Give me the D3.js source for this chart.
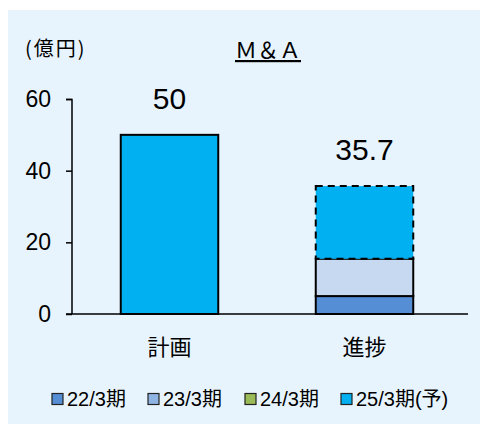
<!DOCTYPE html>
<html>
<head>
<meta charset="utf-8">
<script src="https://cdn.jsdelivr.net/npm/d3@7"></script>
<style>
  body { margin: 0; background: #fff; }
  text { font-family: "Liberation Sans", Arial, "Noto Sans CJK JP", sans-serif; fill: #000; }
</style>
</head>
<body>
<svg id="chart" width="487" height="425"></svg>
<script>
// data
var categories = ["計画", "進捗"];
var planValue = 50;
var seriesNames = ["22/3期", "23/3期", "24/3期", "25/3期(予)"];
var progressValues = [5.0, 10.4, 0, 20.3];
var totals = [50, 35.7];
var yTicks = [0, 20, 40, 60];
var colors = ["#558ED5", "#C6D9F1", "#9BBB59", "#00B0F0"];
var legendColors = ["#558ED5", "#8EB4E3", "#9BBB59", "#00B0F0"];

var svg = d3.select("#chart");

svg.append("rect")
  .attr("x", 8).attr("y", 10)
  .attr("width", 472).attr("height", 414)
  .attr("fill", "#E8F4FD");

var x = d3.scaleBand().domain(categories).range([72, 462]).paddingInner(0.5).paddingOuter(0.25);
var y = d3.scaleLinear().domain([0, 60]).range([314, 99]);

// y axis
var yAxis = svg.append("g")
  .attr("transform", "translate(72,0)")
  .call(d3.axisLeft(y).tickValues(yTicks).tickSize(6).tickPadding(15));
yAxis.select(".domain").attr("stroke", "#000").attr("stroke-width", 1.5).attr("d", "M-6,99.5H0V314");
yAxis.selectAll(".tick line").attr("stroke", "#000").attr("stroke-width", 1.5);
yAxis.selectAll(".tick text").style("font-size", "23px").attr("fill", "#000")
  .style("font-family", '"Liberation Sans", Arial, sans-serif');

// plan bar
svg.append("rect")
  .attr("x", x("計画")).attr("y", y(planValue))
  .attr("width", x.bandwidth()).attr("height", y(0) - y(planValue))
  .attr("fill", colors[3]).attr("stroke", "#000").attr("stroke-width", 2);

// progress stack
var stackData = [];
var acc = 0;
progressValues.forEach(function(v, i) {
  stackData.push({i: i, y0: acc, y1: acc + v});
  acc += v;
});
svg.selectAll(".seg").data(stackData.filter(function(d) { return d.y1 > d.y0; }))
  .enter().append("rect")
  .attr("class", "seg")
  .attr("x", x("進捗")).attr("y", function(d) { return y(d.y1); })
  .attr("width", x.bandwidth())
  .attr("height", function(d) { return y(d.y0) - y(d.y1); })
  .attr("fill", function(d) { return colors[d.i]; })
  .attr("stroke", "#000")
  .attr("stroke-width", 2)
  .attr("stroke-dasharray", function(d) { return d.i === 3 ? "7,5" : null; });

// baseline
svg.append("line")
  .attr("x1", 66).attr("x2", 468)
  .attr("y1", y(0)).attr("y2", y(0))
  .attr("stroke", "#000").attr("stroke-width", 1.5);

// totals
svg.selectAll(".total").data(categories).enter().append("text")
  .attr("x", function(d) { return x(d) + x.bandwidth() / 2; })
  .attr("y", function(d, i) { return y(totals[i]) - 26; })
  .attr("text-anchor", "middle")
  .style("font-size", "30px")
  .text(function(d, i) { return totals[i]; });

// category labels
svg.selectAll(".cat").data(categories).enter().append("text")
  .attr("x", function(d) { return x(d) + x.bandwidth() / 2; })
  .attr("y", 355)
  .attr("text-anchor", "middle")
  .style("font-size", "22px")
  .style("font-family", '"Noto Sans CJK JP", sans-serif')
  .text(function(d) { return d; });

// unit + title
svg.append("text").attr("x", 25).attr("y", 56)
  .style("font-size", "20px")
  .style("letter-spacing", "2px")
  .style("font-family", '"Noto Sans CJK JP", sans-serif')
  .text("(億円)");
svg.append("text").attr("x", 268).attr("y", 58)
  .attr("text-anchor", "middle")
  .style("font-size", "22px")
  .style("font-family", '"Noto Sans CJK JP", sans-serif')
  .style("text-decoration", "underline")
  .text("Ｍ＆Ａ");

// legend
var legendX = [52, 148, 245, 341];
var lg = svg.selectAll(".lg").data(seriesNames).enter().append("g")
  .attr("transform", function(d, i) { return "translate(" + legendX[i] + ",399)"; });
lg.append("rect")
  .attr("x", 0).attr("y", -5.5).attr("width", 11).attr("height", 11)
  .attr("fill", function(d, i) { return legendColors[i]; })
  .attr("stroke", "#222").attr("stroke-width", 1.2);
lg.append("text")
  .attr("x", 15).attr("y", 7)
  .style("font-size", "20px")
  .text(function(d) { return d; });
</script>
</body>
</html>
